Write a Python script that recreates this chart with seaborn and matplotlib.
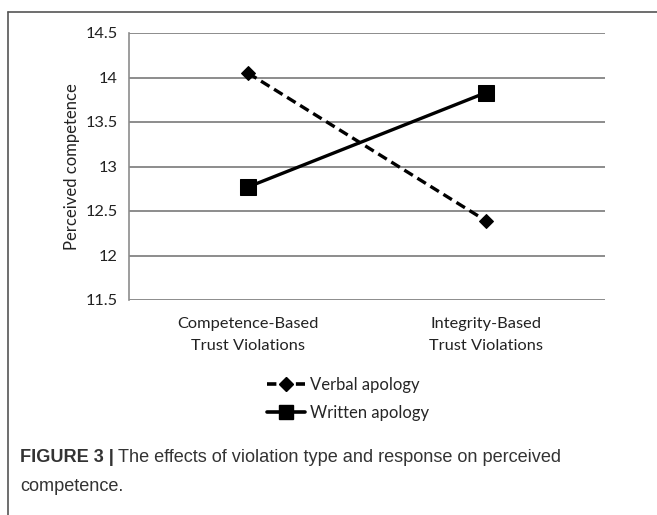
import pandas as pd
import numpy as np
import matplotlib
matplotlib.use("Agg")
import matplotlib.pyplot as plt
import seaborn as sns
from matplotlib.lines import Line2D

# -----------------------------
# Data
# -----------------------------
violations = ["Competence-Based\nTrust Violations", "Integrity-Based\nTrust Violations"]
verbal = [14.05, 12.39]
written = [12.77, 13.83]
series = ["Verbal apology", "Written apology"]
yticks = [11.5, 12, 12.5, 13, 13.5, 14, 14.5]

df = pd.DataFrame({
    "Violation": violations * 2,
    "Competence": verbal + written,
    "Response": [series[0]] * 2 + [series[1]] * 2,
})

sns.set_theme(style="white")
plt.rcParams["font.family"] = ["Lato", "DejaVu Sans"]

fig = plt.figure(figsize=(6.57, 5.15), dpi=100)
ax = fig.add_axes([129 / 657, 1 - 300 / 515, (605 - 129) / 657, (300 - 33) / 515])

sns.lineplot(data=df, x="Violation", y="Competence", style="Response",
             markers={series[0]: "D", series[1]: "s"},
             dashes={series[0]: (3, 1.6), series[1]: ""},
             color="black", linewidth=2.4, ax=ax, legend=False,
             markersize=8, sort=False)
# marker sizes differ per series
for line, ms in zip(ax.lines, [7, 11]):
    line.set_markersize(ms)
    line.set_markerfacecolor("black")
    line.set_markeredgecolor("black")

ax.set_xlim(-0.5, 1.5)
ax.set_ylim(11.5, 14.5)
ax.set_yticks(yticks)
ax.set_yticklabels(["11.5", "12", "12.5", "13", "13.5", "14", "14.5"], fontsize=11.8, color="#222222")
ax.tick_params(axis="x", labelsize=11.8, colors="#222222", pad=12, length=0)
for t in ax.get_xticklabels():
    t.set_linespacing(1.75)
ax.tick_params(axis="y", pad=8, length=0)
ax.yaxis.grid(True, color="#8c8c8c", linewidth=1.4)
ax.set_axisbelow(True)
for s in ["top", "right", "bottom"]:
    ax.spines[s].set_visible(False)
ax.spines["left"].set_color("#8c8c8c")
ax.spines["left"].set_linewidth(1.2)
ax.set_xlabel("")
ax.set_ylabel("Perceived competence", fontsize=12, color="#222222", labelpad=4)

# legend below the axes
handles = [
    Line2D([], [], color="black", linewidth=2.6, linestyle=(0, (2.6, 1.4)), marker="D", markersize=7),
    Line2D([], [], color="black", linewidth=2.6, marker="s", markersize=10),
]
fig.legend(handles, series, loc="center", bbox_to_anchor=(348 / 657, 1 - 399 / 515),
           frameon=False, fontsize=12, handlelength=2.3, handletextpad=0.3,
           labelspacing=0.7)

# figure frame (left and top edge)
fig.add_artist(Line2D([8 / 657, 8 / 657], [0, 1 - 12 / 515], transform=fig.transFigure,
                      color="#555555", linewidth=1.2))
fig.add_artist(Line2D([8 / 657, 1], [1 - 12 / 515, 1 - 12 / 515], transform=fig.transFigure,
                      color="#555555", linewidth=1.2))

# caption
cap_kw = dict(fontsize=13.1, family=["Liberation Sans", "DejaVu Sans"], color="#333333", va="baseline")
b = fig.text(20 / 657, 1 - 462 / 515, "FIGURE 3 |", fontweight="bold", **cap_kw)
fig.canvas.draw()
bb = b.get_window_extent()
fig.text(bb.x1 / fig.bbox.width + 0.006, 1 - 462 / 515,
         "The effects of violation type and response on perceived", **cap_kw)
fig.text(20 / 657, 1 - 491 / 515, "competence.", **cap_kw)

fig.savefig("out.png", dpi=100)
